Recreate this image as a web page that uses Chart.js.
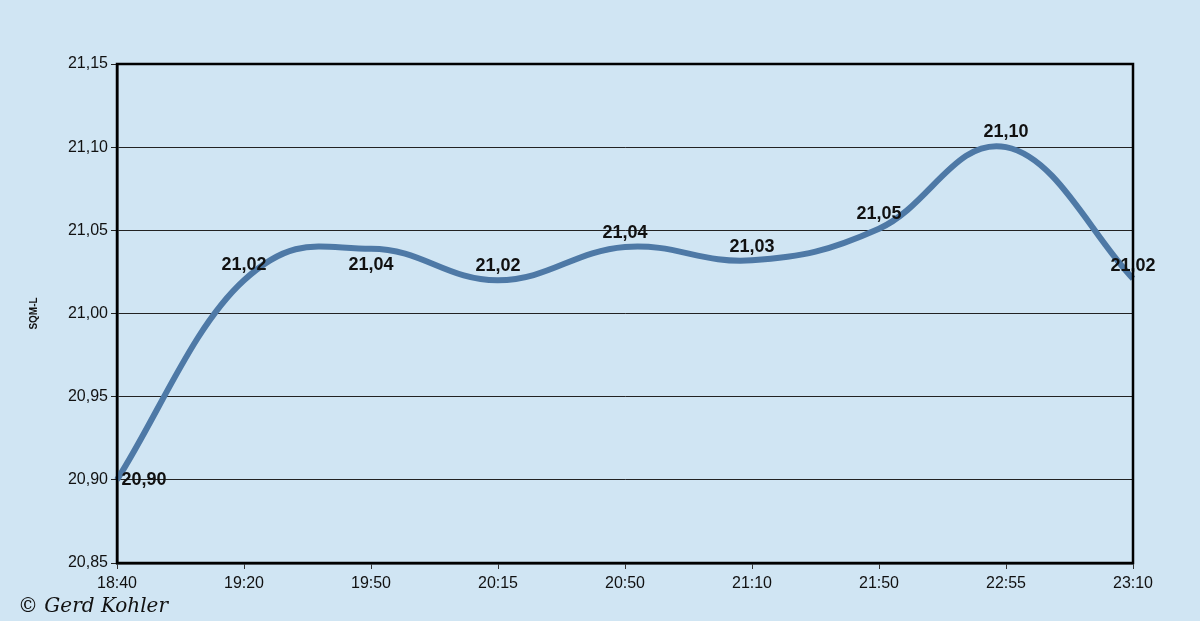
<!DOCTYPE html>
<html>
<head>
<meta charset="utf-8">
<script src="https://cdn.jsdelivr.net/npm/chart.js@4.4.1/dist/chart.umd.min.js"></script>
<style>
  html, body { margin: 0; padding: 0; background: #d0e5f3; }
  #wrap { width: 1200px; height: 621px; position: relative; }
</style>
</head>
<body>
<div id="wrap"><canvas id="c" width="1200" height="621"></canvas></div>
<script>
const categories = ['18:40', '19:20', '19:50', '20:15', '20:50', '21:10', '21:50', '22:55', '23:10'];
const sqmValues = [20.90, 21.02, 21.039, 21.02, 21.04, 21.032, 21.051, 21.10, 21.021];
const yTickValues = [20.85, 20.90, 20.95, 21.00, 21.05, 21.10, 21.15];
const yAxisTitle = 'SQM-L';
const copyrightText = '\u00A9 Gerd Kohler';

const fmt = v => Number(v).toFixed(2).replace('.', ',');

// label placement per point (dx, dy relative to the point), style only
const labelOffsets = [[27, 0], [0, -15], [0, 16], [0, -14], [0, -14], [0, -13], [0, -15], [0, -15], [0, -13]];

// Excel-like smoothing: Catmull-Rom style control points computed from the point elements
const smoothPlugin = {
  id: 'excelSmooth',
  beforeDatasetsDraw(chart) {
    const meta = chart.getDatasetMeta(0);
    const pts = meta.data;
    const n = pts.length;
    const k = 0.2, kEnd = 1 / 3;
    for (let i = 0; i < n; i++) {
      const p = pts[i];
      let tx, ty, kb = k, kf = k;
      if (i === 0) { tx = pts[1].x - p.x; ty = pts[1].y - p.y; kb = kf = kEnd; }
      else if (i === n - 1) { tx = p.x - pts[n - 2].x; ty = p.y - pts[n - 2].y; kb = kf = kEnd; }
      else { tx = pts[i + 1].x - pts[i - 1].x; ty = pts[i + 1].y - pts[i - 1].y; }
      p.cp1x = p.x - tx * kb; p.cp1y = p.y - ty * kb;
      p.cp2x = p.x + tx * kf; p.cp2y = p.y + ty * kf;
    }
    meta.dataset._pointsUpdated = true;
    meta.dataset._path = undefined;
  }
};

const labelsPlugin = {
  id: 'pointLabels',
  afterDatasetsDraw(chart) {
    const ctx = chart.ctx;
    const meta = chart.getDatasetMeta(0);
    ctx.save();
    ctx.font = 'bold 18px "Liberation Sans", Arial, sans-serif';
    ctx.fillStyle = '#111';
    ctx.textAlign = 'center';
    ctx.textBaseline = 'middle';
    meta.data.forEach((pt, i) => {
      const off = labelOffsets[i] || [0, -15];
      ctx.fillText(fmt(chart.data.datasets[0].data[i]), pt.x + off[0], pt.y + off[1]);
    });
    // frame
    const a = chart.chartArea;
    ctx.strokeStyle = '#000';
    ctx.lineWidth = 2.5;
    ctx.strokeRect(a.left, a.top, a.right - a.left, a.bottom - a.top);
    // copyright
    ctx.font = 'italic 20px "DejaVu Serif", "Liberation Serif", serif';
    ctx.textAlign = 'left';
    ctx.textBaseline = 'middle';
    ctx.fillStyle = '#111';
    ctx.fillText(copyrightText, 18, 607);
    ctx.restore();
  }
};

new Chart(document.getElementById('c'), {
  type: 'line',
  data: {
    labels: categories,
    datasets: [{
      data: sqmValues,
      borderColor: '#4e79a6',
      borderWidth: 6,
      tension: 0.4,
      pointRadius: 0,
      fill: false,
      clip: false
    }]
  },
  options: {
    responsive: false,
    animation: false,
    devicePixelRatio: 1,
    layout: { padding: { top: 64, right: 67, bottom: 0, left: 0 } },
    plugins: { legend: { display: false }, tooltip: { enabled: false } },
    scales: {
      x: {
        type: 'category',
        offset: false,
        afterFit(s) { s.height = 58; },
        grid: { drawOnChartArea: false, drawTicks: true, tickLength: 6, color: '#333' },
        border: { color: '#000', width: 2.5 },
        ticks: {
          color: '#111',
          font: { family: '"Liberation Sans", Arial, sans-serif', size: 16 },
          padding: 5,
          maxRotation: 0,
          autoSkip: false
        }
      },
      y: {
        min: 20.85,
        max: 21.15,
        afterFit(s) { s.width = 117; },
        afterBuildTicks(s) { s.ticks = yTickValues.map(v => ({ value: v })); },
        grid: { color: '#222', lineWidth: 1, drawTicks: true, tickLength: 6 },
        border: { color: '#000', width: 2.5 },
        ticks: {
          color: '#111',
          font: { family: '"Liberation Sans", Arial, sans-serif', size: 16 },
          padding: 3,
          callback: v => fmt(v)
        },
        title: {
          display: true,
          text: yAxisTitle,
          color: '#111',
          font: { family: '"Liberation Sans", Arial, sans-serif', size: 10, weight: 'bold' },
          padding: { top: 28, bottom: 0 }
        }
      }
    }
  },
  plugins: [smoothPlugin, labelsPlugin]
});
</script>
</body>
</html>
